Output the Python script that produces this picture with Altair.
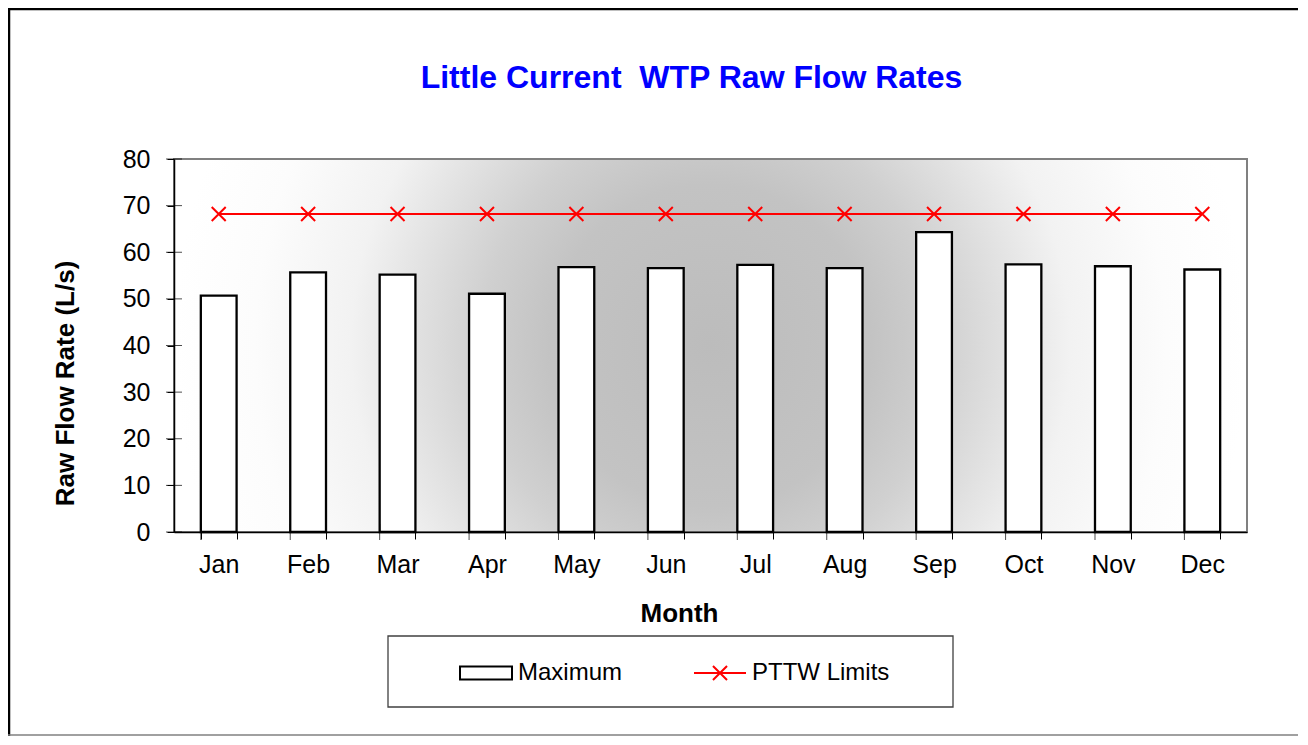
import altair as alt
import pandas as pd

months = ["Jan", "Feb", "Mar", "Apr", "May", "Jun", "Jul", "Aug", "Sep", "Oct", "Nov", "Dec"]
maximum = [50.7, 55.7, 55.2, 51.1, 56.8, 56.6, 57.3, 56.6, 64.3, 57.4, 57.0, 56.3]
pttw = [68.2, 68.2, 68.2, 68.2, 68.2, 68.2, 68.2, 68.2, 68.2, 68.2, 68.2, 68.2]
y_ticks = [0, 10, 20, 30, 40, 50, 60, 70, 80]
series_names = ["Maximum", "PTTW Limits"]
title_text = "Little Current\u00a0 WTP Raw Flow Rates"

FONT = "Liberation Sans, Arial, sans-serif"
W, H = 1073, 373

df = pd.DataFrame({"month": months, "Maximum": maximum, "PTTW": pttw,
                   "series": [series_names[0]] * len(months)})
ticks_df = pd.DataFrame({"v": y_ticks})
one = pd.DataFrame({"a": [0]})

RECT = "M-1,-0.25H1V0.25H-1Z"
XLINE = "M-1,0H1M-0.27,-0.27L0.27,0.27M-0.27,0.27L0.27,-0.27"
XMARK = "M-1,-1L1,1M-1,1L1,-1"

xscale = alt.Scale(domain=months, paddingInner=0.6, paddingOuter=0.3)
yscale = alt.Scale(domain=[0, 80], nice=False)

x_axis = alt.Axis(title="Month", labelAngle=0, labelFont=FONT, labelFontSize=25,
                  labelColor="black", labelBaseline="alphabetic", labelPadding=33,
                  tickBand="extent", tickSize=7, tickColor="black",
                  domainColor="black", domainWidth=1.5,
                  titleFont=FONT, titleFontSize=26, titleFontWeight="bold", titleColor="black",
                  titleX=505, titleY=89, titleBaseline="alphabetic", titleAlign="center",
                  zindex=1)
y_axis = alt.Axis(title="Raw Flow Rate (L/s)", values=y_ticks, labelFont=FONT, labelFontSize=25,
                  labelColor="black", labelPadding=17, tickSize=7, tickColor="black",
                  domainColor="black", domainWidth=1.5, grid=False,
                  titleFont=FONT, titleFontSize=26, titleFontWeight="bold", titleColor="black",
                  titleAngle=270, titleX=-101, titleY=224, titleBaseline="alphabetic",
                  titleAlign="center", zindex=1)

gradient = alt.RadialGradient(
    gradient="radial", x1=0.5, y1=0.5, r1=0, x2=0.5, y2=0.5, r2=0.5,
    stops=[alt.GradientStop(offset=0, color="#bcbcbc"),
           alt.GradientStop(offset=0.3, color="#c3c3c3"),
           alt.GradientStop(offset=0.43, color="#d0d0d0"),
           alt.GradientStop(offset=0.67, color="#f2f2f2"),
           alt.GradientStop(offset=0.85, color="#fcfcfc"),
           alt.GradientStop(offset=1, color="#ffffff")])

bg = alt.Chart(one).mark_rect(fill=gradient, stroke="#808080", strokeWidth=2).encode(
    x=alt.value(0), x2=alt.value("width"), y=alt.value(0), y2=alt.value("height"))

legend = alt.Legend(
    title=None, orient="none", legendX=285, legendY=487, direction="horizontal",
    symbolSize=2704, labelFont=FONT, labelFontSize=24, labelColor="black", labelOffset=5,
    columnPadding=67, padding=0, symbolStrokeWidth=2, symbolOpacity=1,
    symbolType=alt.ExprRef(expr=f"datum.value === 'Maximum' ? '{RECT}' : '{XLINE}'"))

bars = alt.Chart(df).mark_bar(strokeWidth=2.3, opacity=1).encode(
    x=alt.X("month:N", scale=xscale, axis=x_axis, sort=months),
    y=alt.Y("Maximum:Q", scale=yscale, axis=y_axis),
    fill=alt.Fill("series:N", scale=alt.Scale(domain=series_names, range=["#ffffff", "transparent"]),
                  legend=legend),
    stroke=alt.Stroke("series:N", scale=alt.Scale(domain=series_names, range=["#000000", "#ff0000"]),
                      legend=legend))

line = alt.Chart(df).mark_line(color="#ff0000", strokeWidth=2).encode(
    x=alt.X("month:N", sort=months), y=alt.Y("PTTW:Q"))

pts = alt.Chart(df).mark_point(shape=XMARK, size=196, filled=False, stroke="#ff0000",
                               strokeWidth=2, opacity=1).encode(
    x=alt.X("month:N", sort=months), y=alt.Y("PTTW:Q"))

ytk = alt.Chart(ticks_df).mark_tick(orient="horizontal", color="black", thickness=1, size=16).encode(
    y=alt.Y("v:Q"), x=alt.value(0))

xtk = alt.Chart(df).mark_tick(orient="vertical", color="black", thickness=1, size=16).encode(
    x=alt.X("month:N", sort=months, bandPosition=0), y=alt.value("height"))

legend_box = alt.Chart(one).mark_rect(fill="white", stroke="#404040", strokeWidth=1.3).encode(
    x=alt.value(214), x2=alt.value(779), y=alt.value(477), y2=alt.value(548))

frame = alt.Chart(one).mark_rect(fill=None, stroke="black", strokeWidth=2.5, clip=False).encode(
    x=alt.value(-165), x2=alt.value(1200), y=alt.value(-150), y2=alt.value(600))

bottom = alt.Chart(one).mark_rule(stroke="#808080", strokeWidth=1.5).encode(
    x=alt.value(-166), x2=alt.value(1200), y=alt.value(576))

chart = alt.layer(frame, bottom, bg, legend_box, bars, line, pts, ytk, xtk).properties(
    width=W, height=H,
    autosize=alt.AutoSizeParams(type="none"),
    padding={"left": 166, "top": 151, "right": 51, "bottom": 204},
    title=alt.TitleParams(text=title_text, font=FONT, fontSize=32, fontWeight="bold",
                          color="#0000ff", anchor="middle", dx=-19, baseline="alphabetic",
                          offset=0, dy=112),
).configure_view(stroke=None).configure(background="white")

chart.save("out.html", embed_options={"renderer": "svg", "actions": False})
